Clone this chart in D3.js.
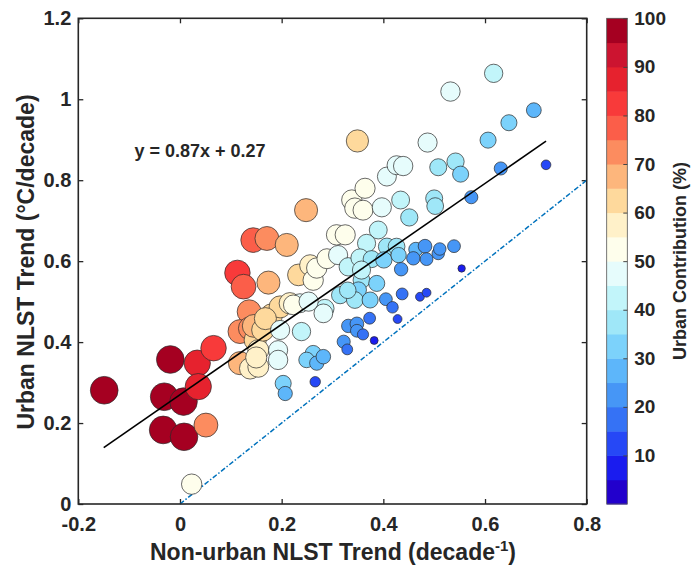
<!DOCTYPE html>
<html>
<head>
<meta charset="utf-8">
<script src="https://cdn.jsdelivr.net/npm/d3@7"></script>
<style>
  body { margin: 0; background: #fff; }
  text { font-family: "Liberation Sans", Arial, sans-serif; font-weight: bold; fill: #262626; }
</style>
</head>
<body>
<div id="chart"></div>
<script>
// tick labels
const xTicks = [-0.2, 0, 0.2, 0.4, 0.6, 0.8];
const yTicks = [0, 0.2, 0.4, 0.6, 0.8, 1, 1.2];
const cbTicks = [10, 20, 30, 40, 50, 60, 70, 80, 90, 100];

// one entry per city: non-urban trend (x), urban trend (y), urban contribution % (colour + size)
const nonUrbanTrend = [
  -0.149, -0.019, -0.031, 0.007, -0.033, 0.008, 0.034, 0.036, 0.066, 0.051, 0.023,
  0.113, 0.125, 0.144, 0.171, 0.210, 0.248, 0.349, 0.174, 0.136, 0.118, 0.138,
  0.154, 0.148, 0.180, 0.197, 0.216, 0.233, 0.256, 0.262, 0.118, 0.138, 0.154,
  0.154, 0.145, 0.163, 0.168, 0.150, 0.197, 0.193, 0.193, 0.239, 0.236, 0.285,
  0.282, 0.269, 0.289, 0.308, 0.325, 0.311, 0.331, 0.338, 0.344, 0.360, 0.364,
  0.397, 0.407, 0.426, 0.439, 0.434, 0.451, 0.487, 0.532, 0.617, 0.390, 0.367,
  0.354, 0.500, 0.502, 0.508, 0.542, 0.552, 0.606, 0.647, 0.696, 0.631, 0.573,
  0.720, 0.407, 0.426, 0.377, 0.401, 0.430, 0.357, 0.387, 0.351, 0.315, 0.344,
  0.374, 0.464, 0.482, 0.459, 0.485, 0.508, 0.511, 0.539, 0.435, 0.554, 0.437,
  0.472, 0.485, 0.405, 0.418, 0.373, 0.428, 0.331, 0.348, 0.348, 0.360, 0.322,
  0.329, 0.382, 0.262, 0.249, 0.269, 0.282, 0.266, 0.203, 0.207, 0.223, 0.253,
  0.330, 0.357
];
const urbanTrend = [
  0.281, 0.357, 0.265, 0.253, 0.183, 0.166, 0.348, 0.290, 0.385, 0.195, 0.049,
  0.571, 0.537, 0.652, 0.656, 0.640, 0.726, 0.897, 0.547, 0.475, 0.426, 0.434,
  0.438, 0.405, 0.467, 0.487, 0.496, 0.566, 0.590, 0.553, 0.348, 0.335, 0.380,
  0.339, 0.440, 0.430, 0.458, 0.362, 0.430, 0.380, 0.356, 0.426, 0.496, 0.483,
  0.471, 0.583, 0.606, 0.665, 0.665, 0.615, 0.586, 0.751, 0.731, 0.726, 0.780,
  0.733, 0.809, 0.837, 0.835, 0.751, 0.708, 0.893, 1.019, 1.064, 0.677, 0.644,
  0.608, 0.755, 0.736, 0.832, 0.846, 0.815, 0.899, 0.942, 0.973, 0.829, 0.758,
  0.838, 0.636, 0.636, 0.605, 0.603, 0.615, 0.553, 0.545, 0.529, 0.516, 0.504,
  0.504, 0.629, 0.637, 0.607, 0.605, 0.619, 0.630, 0.637, 0.580, 0.582, 0.519,
  0.512, 0.522, 0.506, 0.486, 0.459, 0.457, 0.440, 0.445, 0.428, 0.419, 0.401,
  0.382, 0.404, 0.372, 0.356, 0.348, 0.364, 0.302, 0.298, 0.273, 0.492, 0.500,
  0.528, 0.578
];
const urbanContribution = [
  98, 98, 98, 97, 98, 97, 88, 88, 83, 73, 53,
  83, 78, 78, 73, 68, 68, 63, 68, 73, 73, 70,
  67, 63, 63, 62, 58, 60, 56, 53, 68, 58, 57,
  56, 66, 64, 62, 57, 47, 47, 48, 43, 46, 43,
  45, 53, 51, 53, 52, 47, 43, 53, 53, 51, 52,
  47, 46, 46, 48, 41, 38, 47, 48, 43, 41, 42,
  42, 37, 36, 37, 38, 33, 33, 33, 28, 22, 22,
  12, 37, 36, 37, 34, 30, 36, 33, 33, 38, 36,
  33, 26, 24, 23, 21, 20, 20, 21, 23, 7, 18,
  10, 10, 21, 17, 18, 10, 23, 24, 21, 16, 22,
  15, 8, 33, 31, 26, 27, 14, 33, 26, 50, 47,
  35, 42
];

// regression fit shown on the chart
const fitSlope = 0.87, fitIntercept = 0.27, fitFrom = -0.15, fitTo = 0.72;
const oneToOne = [0, 0.8];

// 20-step colormap, 0-5% first
const binColors = [
  "#2200cc", "#1a1cef", "#2648f6", "#3572f5", "#4696f6", "#5db6fa", "#7cd2fb",
  "#9fe7f8", "#c2f5fa", "#e6fcfc", "#fefeec", "#fff1c9", "#fed99c", "#fdb67c",
  "#fc8c5f", "#fb5e49", "#f83a3a", "#e6222e", "#cc1430", "#a50021"
];

const data = nonUrbanTrend.map((v, i) => ({ x: v, y: urbanTrend[i], c: urbanContribution[i] }));

const width = 692, height = 575;
const svg = d3.select("#chart").append("svg")
    .attr("width", width)
    .attr("height", height);

const x = d3.scaleLinear().domain([-0.2, 0.8]).range([78.3, 586.7]);
const y = d3.scaleLinear().domain([0, 1.2]).range([504, 18.3]);
const color = d3.scaleQuantize().domain([0, 100]).range(binColors);
const r = d3.scaleSqrt().domain([0, 100]).range([0, 14]);

const fmt = d => String(d);

// axes, ticks inward on all four sides
svg.append("g")
    .attr("transform", `translate(0,${y(0)})`)
    .call(d3.axisBottom(x).tickValues(xTicks).tickSizeInner(-5).tickSizeOuter(0).tickPadding(13).tickFormat(fmt))
    .call(g => g.select(".domain").remove())
    .call(g => g.selectAll("text").style("font-size", "20px"));
svg.append("g")
    .attr("transform", `translate(0,${y(1.2)})`)
    .call(d3.axisTop(x).tickValues(xTicks).tickSizeInner(-5).tickSizeOuter(0).tickFormat(""))
    .call(g => g.select(".domain").remove());
svg.append("g")
    .attr("transform", `translate(${x(-0.2)},0)`)
    .call(d3.axisLeft(y).tickValues(yTicks).tickSizeInner(-5).tickSizeOuter(0).tickPadding(7).tickFormat(fmt))
    .call(g => g.select(".domain").remove())
    .call(g => g.selectAll("text").style("font-size", "20px"));
svg.append("g")
    .attr("transform", `translate(${x(0.8)},0)`)
    .call(d3.axisRight(y).tickValues(yTicks).tickSizeInner(-5).tickSizeOuter(0).tickFormat(""))
    .call(g => g.select(".domain").remove());
svg.selectAll(".tick line").attr("stroke", "#262626").attr("stroke-width", 1.3);

// 1:1 line
svg.append("line")
    .attr("x1", x(oneToOne[0])).attr("y1", y(oneToOne[0]))
    .attr("x2", x(oneToOne[1])).attr("y2", y(oneToOne[1]))
    .attr("stroke", "#0072BD")
    .attr("stroke-width", 1.5)
    .attr("stroke-dasharray", "5,2,1.5,2");

// points
svg.append("g")
    .selectAll("circle")
    .data(data)
    .join("circle")
    .attr("cx", d => x(d.x))
    .attr("cy", d => y(d.y))
    .attr("r", d => r(d.c))
    .attr("fill", d => color(d.c))
    .attr("stroke", "#2a2a2a")
    .attr("stroke-width", 0.7);

// fit line
svg.append("line")
    .attr("x1", x(fitFrom)).attr("y1", y(fitSlope * fitFrom + fitIntercept))
    .attr("x2", x(fitTo)).attr("y2", y(fitSlope * fitTo + fitIntercept))
    .attr("stroke", "#000")
    .attr("stroke-width", 1.6);

svg.append("text")
    .attr("x", 134.5)
    .attr("y", 157)
    .style("font-size", "18px")
    .attr("fill", "#000")
    .text(`y = ${fitSlope}x + ${fitIntercept}`);

// box
svg.append("rect")
    .attr("x", x(-0.2)).attr("y", y(1.2))
    .attr("width", x(0.8) - x(-0.2))
    .attr("height", y(0) - y(1.2))
    .attr("fill", "none")
    .attr("stroke", "#262626")
    .attr("stroke-width", 1.6);

// axis titles
const xt = svg.append("text")
    .attr("x", 333)
    .attr("y", 560)
    .attr("text-anchor", "middle")
    .style("font-size", "23px");
xt.append("tspan").text("Non-urban NLST Trend (decade");
xt.append("tspan").attr("dy", -9).style("font-size", "15px").text("-1");
xt.append("tspan").attr("dy", 9).text(")");

svg.append("text")
    .attr("transform", "translate(34,262) rotate(-90)")
    .attr("text-anchor", "middle")
    .style("font-size", "23px")
    .text("Urban NLST Trend (°C/decade)");

// colorbar
const cb = d3.scaleLinear().domain([0, 100]).range([504, 18.3]);
const cbX = 606.7, cbW = 20.6;
svg.append("g")
    .selectAll("rect")
    .data(binColors)
    .join("rect")
    .attr("x", cbX)
    .attr("y", (d, i) => cb((i + 1) * 5))
    .attr("width", cbW)
    .attr("height", (d, i) => cb(i * 5) - cb((i + 1) * 5) + 0.5)
    .attr("fill", d => d);
svg.append("rect")
    .attr("x", cbX).attr("y", cb(100))
    .attr("width", cbW).attr("height", cb(0) - cb(100))
    .attr("fill", "none")
    .attr("stroke", "#555")
    .attr("stroke-width", 0.8);
svg.append("g")
    .attr("transform", `translate(${cbX + cbW},0)`)
    .call(d3.axisRight(cb).tickValues(cbTicks).tickSizeInner(-4).tickSizeOuter(0).tickPadding(7))
    .call(g => g.select(".domain").remove())
    .call(g => g.selectAll(".tick line").attr("stroke", "#444"))
    .call(g => g.selectAll("text").style("font-size", "19px"));

svg.append("text")
    .attr("transform", "translate(686,261) rotate(-90)")
    .attr("text-anchor", "middle")
    .style("font-size", "18px")
    .text("Urban Contribution (%)");
</script>
</body>
</html>
